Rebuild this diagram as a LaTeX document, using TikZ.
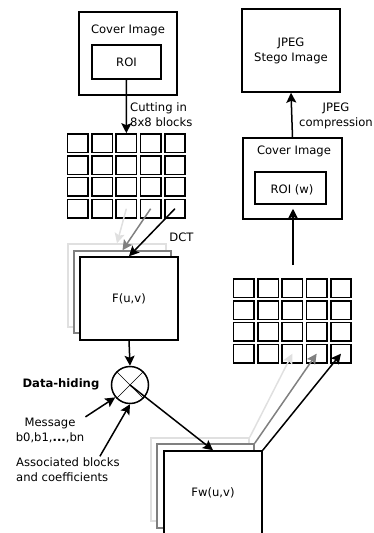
\documentclass[tikz,border=0pt]{standalone}
\usepackage{fontspec}
\setmainfont{DejaVu Sans}
\usetikzlibrary{positioning, arrows.meta}

\begin{document}
\begin{tikzpicture}[x=1pt,y=-1pt,
		font=\fontsize{11.6}{15}\selectfont,
		box/.style={draw, line width=1.5pt, fill=white, minimum width=98pt, minimum height=83pt, inner sep=0pt},
		inbox/.style={draw, line width=1.5pt, inner sep=0pt},
		cell/.style={draw, line width=1.6pt, minimum width=20.5pt, minimum height=18.6pt, inner sep=0pt},
		arr/.style={-{Stealth[length=10pt,width=10pt,inset=2pt]}, line width=1.5pt},
		faint/.style={draw=black!12},
		half/.style={draw=black!50},
		txt/.style={align=center, inner sep=1pt}]
	\useasboundingbox (0,0) rectangle (374,533);
	\clip (0,0) rectangle (374,533);
	\node[box] (cover) at (128,53.5) {};
	\node[txt, anchor=base] at (128,33) {Cover Image};
	\node[inbox, minimum width=69pt, minimum height=34pt] (roi) at (126.5,62) {ROI};
	\foreach \c in {1,...,5}
		\foreach \r in {1,...,4}{
			\node[cell] (a\c\r) at (77.75+24.3*\c-24.3, 143.3+21.8*\r-21.8) {};
			\node[cell] (b\c\r) at (243.75+24.3*\c-24.3, 288.3+21.8*\r-21.8) {};
		}
	\node[txt, align=left, anchor=west] (cut) at (129,115) {Cutting in\\8x8 blocks};
	\node[box, faint] (F1) at (117,285.5) {};
	\node[box, half, minimum width=97pt, minimum height=82pt] (F2) at (122.5,292) {};
	\node[box] (F) at (129,298.5) {F(u,v)};
	\node[txt, anchor=base] (dct) at (181.5,241) {DCT};
	\node[draw, circle, line width=1.5pt, minimum size=37pt, inner sep=0pt] (dh) at (130,385) {};
	\node[txt, anchor=base east, font=\fontsize{11.6}{15}\selectfont\bfseries] (dhl) at (100.5,387) {Data-hiding};
	\node[txt] (msg) at (50,430.5) {Message\\b0,b1,\textbf{...},bn};
	\node[txt, align=left, anchor=west] (assoc) at (15,469.5) {Associated blocks\\and coefficients};
	\node[box, faint] (Fw1) at (200,479.5) {};
	\node[box, half, minimum width=97pt, minimum height=84pt] (Fw2) at (205.5,486) {};
	\node[box] (Fw) at (213,492.5) {Fw(u,v)};
	\node[box, minimum width=99pt, minimum height=81pt] (cover2) at (292.5,178.5) {};
	\node[txt, anchor=base] at (294,154.5) {Cover Image};
	\node[inbox, minimum width=71pt, minimum height=32pt] (roi2) at (290.5,188) {};
	\node[txt] at (292,190) {ROI (w)};
	\node[box, align=center] (stego) at (291,50.5) {JPEG\\Stego Image};
	\node[txt] (comp) at (336,116) {JPEG\\compression};
	\coordinate (up) at (293,265);
	\draw (dh.north west) -- (dh.south east)
		(dh.north east) -- (dh.south west);
	\draw (roi.south) edge[arr] (a31.north)
		(a34.center) edge[arr, black!12] (F1.north)
		(a44.center) edge[arr, black!50] (F2.north)
		(a54.center) edge[arr] (F.north)
		(F.south) edge[arr] (dh.north)
		(msg.north east) edge[arr] (dh.220)
		([xshift=32pt]assoc.north) edge[arr] (dh.south)
		(dh.center) edge[arr] (Fw.north)
		(Fw1.north east) edge[arr, black!12] (b34.center)
		(Fw2.north east) edge[arr, black!50] (b44.center)
		(Fw.north east) edge[arr] (b54.center)
		(up) edge[arr, shorten >=4pt] (up |- roi2.south)
		(cover2.north) edge[arr] (stego.south);
\end{tikzpicture}
\end{document}
